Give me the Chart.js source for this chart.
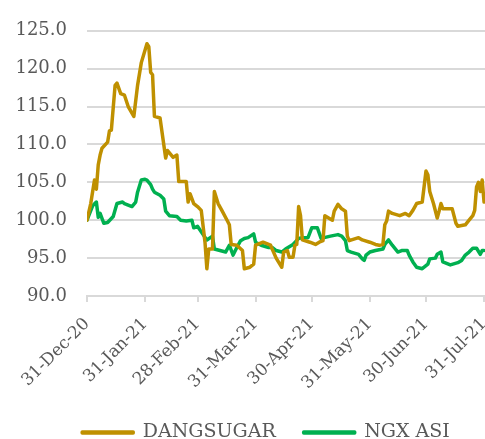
<!DOCTYPE html>
<html>
<head>
<meta charset="utf-8">
<script src="https://cdn.jsdelivr.net/npm/chart.js@4/dist/chart.umd.min.js"></script>
<style>
  html, body { margin: 0; padding: 0; overflow: hidden; background: #fff; }
  #wrap { position: relative; width: 532px; height: 452px; }
</style>
</head>
<body>
<div id="wrap"><canvas id="chart"></canvas></div>
<script>
// days counted from 31-Dec-20
const tickDays = [0, 31, 59, 90, 120, 151, 181, 212]
const tickLabels = ['31-Dec-20', '31-Jan-21', '28-Feb-21', '31-Mar-21', '30-Apr-21', '31-May-21', '30-Jun-21', '31-Jul-21']

const sugarDays = [0, 2, 4, 5, 6, 7, 8, 11, 12, 13, 15, 16, 18, 20, 22, 25, 27, 29, 32, 33, 34, 35, 36, 39, 42, 43, 46, 48, 49, 53, 54, 55, 57, 59, 61, 63, 64, 65, 67, 68, 70, 72, 75, 76, 77, 80, 83, 84, 87, 89, 90, 94, 98, 101, 104, 105, 107, 108, 110, 111, 112, 113, 114, 115, 119, 122, 124, 126, 127, 129, 131, 132, 134, 136, 138, 139, 140, 145, 147, 151, 154, 156, 158, 159, 160, 161, 163, 167, 170, 172, 174, 176, 179, 181, 182, 183, 185, 187, 188, 189, 190, 195, 197, 198, 202, 204, 206, 207, 208, 209, 210, 211, 212]
const sugarValues = [100.0, 102.2, 105.3, 104.1, 107.3, 108.6, 109.5, 110.3, 111.8, 111.9, 117.8, 118.1, 116.7, 116.5, 115.0, 113.7, 117.8, 120.8, 123.3, 122.9, 119.5, 119.2, 113.7, 113.5, 108.2, 109.2, 108.3, 108.6, 105.1, 105.1, 102.4, 103.5, 102.2, 101.8, 101.3, 97.1, 93.6, 96.2, 96.2, 103.8, 102.2, 101.3, 99.9, 99.4, 96.8, 96.7, 96.0, 93.6, 93.8, 94.2, 96.7, 97.1, 96.7, 95.0, 93.8, 95.8, 96.0, 95.1, 95.1, 96.7, 96.8, 101.8, 100.6, 97.4, 97.1, 96.8, 97.1, 97.3, 100.6, 100.3, 100.0, 101.2, 102.1, 101.5, 101.2, 97.9, 97.3, 97.7, 97.4, 97.1, 96.8, 96.7, 96.8, 99.4, 99.9, 101.2, 100.9, 100.6, 100.9, 100.6, 101.3, 102.2, 102.4, 106.5, 106.0, 103.8, 102.2, 100.3, 101.2, 102.2, 101.5, 101.5, 99.6, 99.2, 99.4, 100.0, 100.6, 101.3, 104.4, 105.0, 103.8, 105.3, 102.4]

const ngxDays = [0, 3, 5, 6, 7, 9, 11, 14, 16, 19, 20, 24, 26, 27, 29, 31, 32, 34, 35, 36, 39, 41, 42, 44, 48, 50, 53, 56, 57, 59, 62, 64, 67, 68, 71, 74, 76, 78, 80, 82, 84, 86, 89, 90, 93, 97, 99, 101, 104, 106, 108, 110, 113, 115, 118, 120, 123, 125, 130, 134, 136, 138, 139, 141, 145, 147, 148, 149, 151, 154, 158, 159, 161, 163, 166, 168, 171, 172, 174, 176, 179, 182, 183, 186, 187, 189, 190, 194, 198, 200, 202, 204, 206, 208, 210, 211, 212]
const ngxValues = [100.0, 101.9, 102.4, 100.4, 100.9, 99.6, 99.7, 100.5, 102.2, 102.4, 102.2, 101.8, 102.4, 103.7, 105.3, 105.4, 105.3, 104.7, 104.1, 103.7, 103.3, 102.8, 101.2, 100.6, 100.5, 100.0, 99.9, 100.0, 99.0, 99.2, 98.1, 97.4, 97.9, 96.2, 96.0, 95.8, 96.7, 95.4, 96.4, 97.3, 97.6, 97.7, 98.2, 97.1, 96.7, 96.4, 96.4, 96.0, 95.8, 96.2, 96.5, 96.8, 97.6, 97.7, 97.7, 99.0, 99.0, 97.6, 97.9, 98.1, 97.9, 97.3, 96.0, 95.8, 95.5, 94.9, 94.7, 95.4, 95.8, 96.0, 96.2, 96.8, 97.4, 96.7, 95.8, 96.0, 96.0, 95.4, 94.5, 93.8, 93.6, 94.2, 94.9, 95.0, 95.5, 95.8, 94.5, 94.1, 94.4, 94.7, 95.4, 95.8, 96.3, 96.3, 95.5, 96.0, 96.0]

const gold = '#bf9000'
const green = '#00b050'
const textColor = '#595959'
const gridColor = '#d9d9d9'
const serif = 'DejaVu Serif'

function toPoints(days, values) {
    return days.map((d, i) => ({ x: d, y: values[i] }))
}

const data = {
    datasets: [{
        label: 'DANGSUGAR',
        data: toPoints(sugarDays, sugarValues),
        borderColor: gold,
        backgroundColor: gold,
        borderWidth: 3.5,
    }, {
        label: 'NGX ASI',
        data: toPoints(ngxDays, ngxValues),
        borderColor: green,
        backgroundColor: green,
        borderWidth: 3.5,
    }]
}

const config = {
    type: 'line',
    data,
    options: {
        responsive: true,
        maintainAspectRatio: false,
        animation: false,
        layout: { padding: { top: 10, left: 0, right: 0, bottom: 0 } },
        elements: {
            point: { radius: 0 },
            line: { tension: 0, borderJoinStyle: 'round', borderCapStyle: 'round' }
        },
        scales: {
            x: {
                type: 'linear',
                min: 0,
                max: 237.6, // 31-Jul lands on the right edge of the picture
                afterBuildTicks: axis => { axis.ticks = tickDays.map(v => ({ value: v })) },
                afterFit: axis => { axis.height = 99 },
                ticks: {
                    autoSkip: false,
                    minRotation: 45,
                    maxRotation: 45,
                    padding: 12,
                    color: textColor,
                    font: { family: serif, size: 17 },
                    callback: (v, i) => tickLabels[i]
                },
                grid: { drawOnChartArea: false, drawTicks: true, tickLength: 6, color: gridColor, lineWidth: 2 },
                border: { display: true, color: gridColor, width: 2 }
            },
            y: {
                min: 90,
                max: 125,
                afterFit: axis => { axis.width = 87 },
                ticks: {
                    stepSize: 5,
                    padding: 20,
                    color: textColor,
                    font: { family: serif, size: 18 },
                    callback: v => v.toFixed(1)
                },
                grid: { color: gridColor, lineWidth: 2, drawTicks: false },
                border: { display: false }
            }
        },
        plugins: {
            legend: {
                position: 'bottom',
                labels: {
                    boxWidth: 51,
                    boxHeight: 1,
                    padding: 28,
                    color: textColor,
                    font: { family: serif, size: 19 }
                }
            },
            tooltip: { enabled: false }
        }
    }
}

const myChart = new Chart(document.getElementById('chart'), config)
</script>
</body>
</html>
